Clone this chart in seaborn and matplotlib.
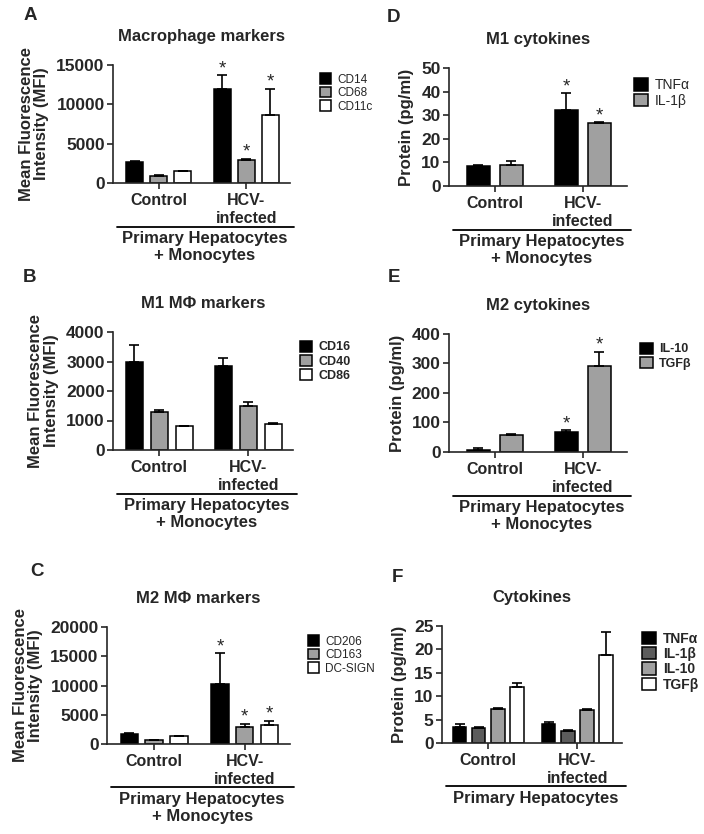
import numpy as np
import pandas as pd
import matplotlib
matplotlib.use("Agg")
import matplotlib.pyplot as plt
import seaborn as sns

sns.set_theme(style="ticks")
plt.rcParams['font.family'] = ['Liberation Sans', 'DejaVu Sans']
plt.rcParams['font.weight'] = 'bold'
plt.rcParams['axes.labelweight'] = 'bold'
plt.rcParams['axes.titleweight'] = 'bold'

# ---- data ----
groups = ['Control', 'HCV-\ninfected']

# A: macrophage markers
a_markers = ['CD14', 'CD68', 'CD11c']
a_means = [[2700, 12000], [900, 2900], [1500, 8600]]
a_errs = [[120, 1700], [60, 200], [60, 3400]]
a_stars = [[0, 1], [0, 1], [0, 1]]

# B: M1 markers
b_markers = ['CD16', 'CD40', 'CD86']
b_means = [[3000, 2850], [1300, 1480], [800, 880]]
b_errs = [[570, 280], [40, 160], [30, 30]]
b_stars = [[0, 0], [0, 0], [0, 0]]

# C: M2 markers
c_markers = ['CD206', 'CD163', 'DC-SIGN']
c_means = [[1700, 10200], [700, 2900], [1300, 3300]]
c_errs = [[100, 5300], [50, 600], [50, 700]]
c_stars = [[0, 1], [0, 1], [0, 1]]

# D: M1 cytokines
d_markers = ['TNFα', 'IL-1β']
d_means = [[8.5, 32.3], [9.0, 26.7]]
d_errs = [[0.5, 7.0], [1.8, 0.3]]
d_stars = [[0, 1], [0, 1]]

# E: M2 cytokines
e_markers = ['IL-10', 'TGFβ']
e_means = [[8, 67], [58, 290]]
e_errs = [[4, 7], [4, 50]]
e_stars = [[0, 1], [0, 1]]

# F: cytokines, hepatocytes only
f_markers = ['TNFα', 'IL-1β', 'IL-10', 'TGFβ']
f_means = [[3.5, 4.0], [3.2, 2.6], [7.3, 7.0], [11.9, 18.9]]
f_errs = [[0.5, 0.5], [0.2, 0.1], [0.2, 0.2], [0.9, 4.9]]
f_stars = [[0, 0], [0, 0], [0, 0], [0, 0]]


def draw_panel(ax, markers, means, errs, stars, colors, yticks, title, ylabel,
               bottom_text, leg_anchor, leg_bold, leg_size, width, gap):
    rows = []
    for m, vals in zip(markers, means):
        for g, v in zip(groups, vals):
            rows.append({'group': g, 'marker': m, 'value': v})
    df = pd.DataFrame(rows)
    sns.barplot(data=df, x='group', y='value', hue='marker', palette=colors,
                edgecolor='black', linewidth=1.1, errorbar=None,
                width=width, gap=gap, ax=ax)
    bars = list(ax.containers)
    for cont, es, ss in zip(bars, errs, stars):
        for bar, e, s in zip(cont, es, ss):
            x = bar.get_x() + bar.get_width() / 2
            h = bar.get_height()
            ax.errorbar(x, h, yerr=[[0], [e]], fmt='none', ecolor='black',
                        elinewidth=1.2, capsize=3.5, capthick=1.2)
            if s:
                ax.annotate('*', (x, h + e), xytext=(0, -1.5), textcoords='offset points',
                            ha='center', va='bottom', fontsize=13.5, fontweight='normal')
    ax.set_ylim(yticks[0], yticks[-1])
    ax.set_yticks(yticks)
    ax.set_xlim(-0.52, 1.5)
    ax.set_xlabel('')
    ax.set_ylabel(ylabel, fontsize=12, labelpad=5, linespacing=1.05)
    ax.set_title(title, fontsize=12, pad=17)
    ax.tick_params(axis='x', labelsize=11.5, width=1.2, length=4)
    ax.tick_params(axis='y', labelsize=12.5, width=1.2, length=4, pad=2)
    for lab in ax.get_xticklabels() + ax.get_yticklabels():
        lab.set_fontweight('bold')
    sns.despine(ax=ax)
    for sp in ['left', 'bottom']:
        ax.spines[sp].set_linewidth(1.2)
    # group bracket line and label underneath
    ax.plot([0.02, 1.02], [-0.37, -0.37], transform=ax.transAxes,
            color='black', lw=1.3, clip_on=False)
    ax.text(0.52, -0.41, bottom_text, transform=ax.transAxes, ha='center',
            va='top', fontsize=12, fontweight='bold', linespacing=1.15)
    handles, labels = ax.get_legend_handles_labels()
    ax.legend(handles, labels, loc='upper left', bbox_to_anchor=leg_anchor,
              frameon=False, handlelength=1.0, handleheight=1.0,
              labelspacing=0.1, handletextpad=0.5, borderaxespad=0,
              prop={'size': leg_size, 'weight': 'bold' if leg_bold else 'normal'})


W, H = 704, 834
fig = plt.figure(figsize=(W / 100, H / 100), dpi=100)


def add_ax(left, top, right, bottom):
    return fig.add_axes([left / W, 1 - bottom / H, (right - left) / W, (bottom - top) / H])


ylab_mfi = 'Mean Fluorescence\nIntensity (MFI)'
ylab_prot = 'Protein (pg/ml)'
both = 'Primary Hepatocytes\n+ Monocytes'
gray = '#a0a0a0'

axA = add_ax(113, 65, 290, 183)
draw_panel(axA, a_markers, a_means, a_errs, a_stars, ['black', gray, 'white'],
           [0, 5000, 10000, 15000], 'Macrophage markers', ylab_mfi, both,
           (1.14, 0.97), False, 8.5, 0.82, 0.28)

axB = add_ax(113, 332, 293, 450)
draw_panel(axB, b_markers, b_means, b_errs, b_stars, ['black', gray, 'white'],
           [0, 1000, 2000, 3000, 4000], 'M1 MΦ markers', ylab_mfi, both,
           (1.01, 0.97), True, 9, 0.84, 0.32)

axC = add_ax(107, 627, 290, 744)
draw_panel(axC, c_markers, c_means, c_errs, c_stars, ['black', gray, 'white'],
           [0, 5000, 10000, 15000, 20000], 'M2 MΦ markers', ylab_mfi, both,
           (1.07, 0.97), False, 8.5, 0.82, 0.3)

axD = add_ax(449, 68, 627, 186)
draw_panel(axD, d_markers, d_means, d_errs, d_stars, ['black', gray],
           [0, 10, 20, 30, 40, 50], 'M1 cytokines', ylab_prot, both,
           (1.01, 0.96), False, 10, 0.75, 0.32)

axE = add_ax(449, 334, 627, 452)
draw_panel(axE, e_markers, e_means, e_errs, e_stars, ['black', gray],
           [0, 100, 200, 300, 400], 'M2 cytokines', ylab_prot, both,
           (1.045, 0.97), True, 9, 0.75, 0.32)

axF = add_ax(442, 626, 622, 743)
draw_panel(axF, f_markers, f_means, f_errs, f_stars, ['black', '#5c5c5c', gray, 'white'],
           [0, 5, 10, 15, 20, 25], 'Cytokines', ylab_prot, 'Primary Hepatocytes',
           (1.08, 1.0), True, 10, 0.86, 0.3)

# panel letters
for letter, (px, py) in zip('ABCDEF', [(30, 16), (30, 277), (37, 571),
                                       (394, 17), (394, 277), (397, 578)]):
    fig.text(px / W, 1 - py / H, letter, ha='center', va='center',
             fontsize=13.5, fontweight='bold')

fig.savefig('out.png', dpi=100)
